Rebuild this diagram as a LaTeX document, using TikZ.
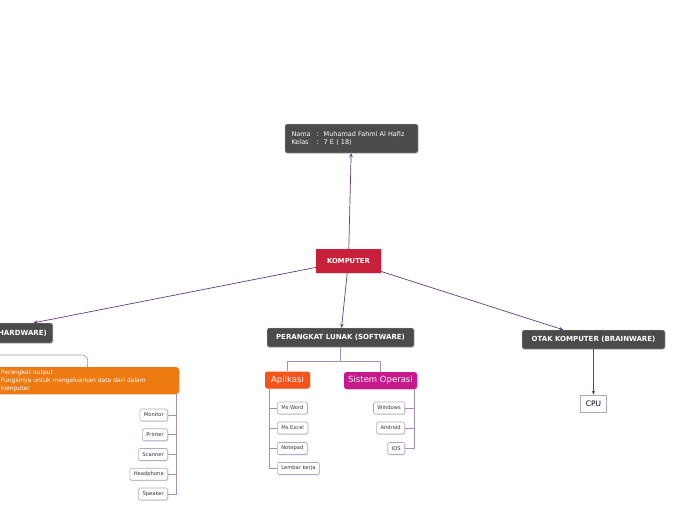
\documentclass[tikz,border=0pt]{standalone}
\usepackage{fontspec}
\setmainfont{DejaVu Sans}
\usetikzlibrary{shadows,arrows.meta}
\definecolor{darkbox}{HTML}{4B4B4B}
\definecolor{kompred}{HTML}{C8203A}
\definecolor{orangebox}{HTML}{EE7A12}
\definecolor{aplbox}{HTML}{F4541A}
\definecolor{sisbox}{HTML}{C8198A}
\definecolor{mainline}{HTML}{633C7C}
\definecolor{childline}{HTML}{A68FB8}
\definecolor{leafborder}{HTML}{B5A6C4}
\tikzset{
 shad/.style={drop shadow={opacity=0.25,shadow xshift=0.6pt,shadow yshift=-0.8pt}},
 header/.style={shad, fill=darkbox, draw=gray!40, line width=0.4pt, rounded corners=2pt, text=white, font=\bfseries\fontsize{7}{8}\selectfont, inner sep=0pt},
 leaf/.style={shad, fill=white, draw=leafborder, line width=0.6pt, rounded corners=1.5pt, font=\fontsize{5.2}{6}\selectfont, inner xsep=4pt, inner ysep=0pt, minimum height=12pt, text=black!80},
 colbox/.style={shad, rounded corners=2.5pt, text=white, font=\fontsize{8.5}{10}\selectfont, inner sep=0pt, minimum height=17pt},
 mainarrow/.style={draw=mainline, line width=0.7pt, -{Stealth[length=4pt,width=3.5pt]}},
 branch/.style={draw=childline, line width=0.6pt},
}
\begin{document}
\begin{tikzpicture}[x=1pt,y=-1pt]
\useasboundingbox (0,0) rectangle (696,520);
% central
\node[shad, fill=kompred, text=white, font=\bfseries\fontsize{6.8}{8}\selectfont, minimum width=65pt, minimum height=24pt, inner sep=0pt] (komp) at (348.5,261) {KOMPUTER};
\node[header, font=\fontsize{6.5}{8.5}\selectfont, minimum width=133pt, minimum height=29pt, text width=120pt, align=left] (name) at (351.5,138.5)
 {\makebox[25pt][l]{Nama}:\hspace{5pt}Muhamad Fahmi Al Hafiz\\\makebox[25pt][l]{Kelas}:\hspace{5pt}7 E ( 18)};
\node[header, anchor=east, inner xsep=6pt, minimum height=20pt] (hw) at (53,333) {PERANGKAT KERAS (HARDWARE)};
\node[header, minimum width=147pt, minimum height=19pt] (sw) at (340.5,337.5) {PERANGKAT LUNAK (SOFTWARE)};
\node[header, minimum width=143pt, minimum height=19pt] (bw) at (593.5,339.5) {OTAK KOMPUTER (BRAINWARE)};
\node[shad, fill=white, draw=leafborder, line width=0.6pt, minimum width=26pt, minimum height=17pt, inner sep=0pt, font=\fontsize{7.5}{9}\selectfont] (cpu) at (593.5,403.5) {CPU};
% main arrows
\draw[mainarrow] (komp) -- (name);
\draw[mainarrow] (komp) -- (hw);
\draw[mainarrow] (komp) -- (sw);
\draw[mainarrow] (komp) -- (bw);
\draw[mainarrow, line width=0.9pt] (bw) -- (cpu);
% hardware
\node[shad, fill=orangebox, rounded corners=3pt, text=white, font=\fontsize{6}{8}\selectfont, minimum width=183pt, minimum height=27pt, text width=173pt, align=left, inner sep=0pt] (out) at (87.5,380.5)
 {Perangkat output\\Fungsinya untuk mengeluarkan data dari dalam\\komputer};
\coordinate (hwj) at (88,355);
\draw[branch, rounded corners=6pt] (hw.south) |- (hwj) -- (out.north);
\node[leaf, anchor=east] (mon) at (168,415) {Monitor};
\node[leaf, anchor=east] (pri) at (168,434.7) {Printer};
\node[leaf, anchor=east] (sca) at (168,454.5) {Scanner};
\node[leaf, anchor=east] (hea) at (168,474.2) {Headphone};
\node[leaf, anchor=east] (spe) at (168,494) {Speaker};
\coordinate (outv) at (176.5,394);
\foreach \n in {mon,pri,sca,hea,spe} \draw[branch] (outv) |- (\n.east);
% software
\node[colbox, fill=aplbox, minimum width=45pt] (apl) at (287.5,380) {Aplikasi};
\node[colbox, fill=sisbox, minimum width=73pt] (sis) at (380.5,380.5) {Sistem Operasi};
\coordinate (swj) at (340.5,361);
\draw[branch] (sw.south) -- (swj);
\draw[branch] (swj) -| (apl.north);
\draw[branch] (swj) -| (sis.north);
\node[leaf, anchor=west] (word) at (277,408) {Ms Word};
\node[leaf, anchor=west] (excel) at (277,428) {Ms Excel};
\node[leaf, anchor=west] (note) at (277,448.5) {Notepad};
\node[leaf, anchor=west] (lemb) at (277,468.5) {Lembar kerja};
\coordinate (aplv) at (269.5,388.5);
\foreach \n in {word,excel,note,lemb} \draw[branch] (aplv) |- (\n.west);
\node[leaf, anchor=east] (win) at (405,408) {Windows};
\node[leaf, anchor=east] (andr) at (405,428) {Android};
\node[leaf, anchor=east] (ios) at (405,448.5) {IOS};
\coordinate (sisv) at (414,389);
\foreach \n in {win,andr,ios} \draw[branch] (sisv) |- (\n.east);
\end{tikzpicture}
\end{document}
